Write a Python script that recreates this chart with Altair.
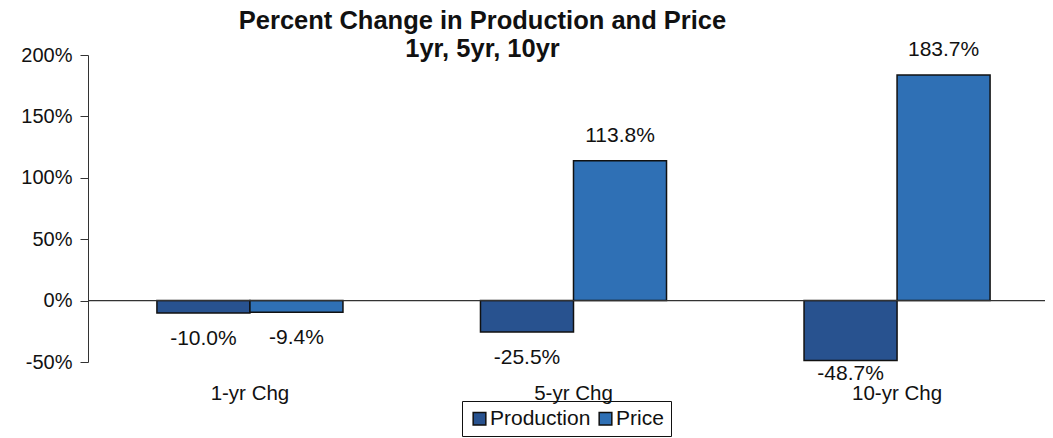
import altair as alt
import pandas as pd

categories = ["1-yr Chg", "5-yr Chg", "10-yr Chg"]
series = ["Production", "Price"]
production = [-10.0, -25.5, -48.7]
price = [-9.4, 113.8, 183.7]
y_ticks = [-50, 0, 50, 100, 150, 200]

rows = []
for c, p, q in zip(categories, production, price):
    rows.append({"cat": c, "series": "Production", "value": p})
    rows.append({"cat": c, "series": "Price", "value": q})
df = pd.DataFrame(rows)
df["label"] = df["value"].map(lambda v: f"{v:.1f}%")

FONT = "Liberation Sans"

x_enc = alt.X("cat:N", sort=categories, title=None,
              scale=alt.Scale(paddingInner=0.425, paddingOuter=0.213, range=[0, 971]),
              axis=alt.Axis(labelAngle=0, domain=False, ticks=False, labelPadding=21,
                            labelFontSize=20.5, labelFont=FONT, labelColor="#111"))
y_enc = alt.Y("value:Q", title=None,
              scale=alt.Scale(domain=[-50, 200], nice=False),
              axis=alt.Axis(values=y_ticks, grid=False, labelExpr="datum.value + '%'",
                            labelFontSize=20, labelFont=FONT, labelColor="#111",
                            domainColor="#333", tickColor="#333", tickSize=8, labelPadding=8))
xo = alt.XOffset("series:N", sort=series)

color = alt.Color("series:N", sort=series, title=None,
                  scale=alt.Scale(domain=series, range=["#28528f", "#2f70b5"]),
                  legend=alt.Legend(orient="none", legendX=374, legendY=346, direction="horizontal",
                                    symbolType="square", symbolSize=160, symbolStrokeColor="#111",
                                    symbolStrokeWidth=1.5, labelFontSize=21, labelFont=FONT,
                                    labelColor="#111", strokeColor="#111", padding=7,
                                    columnPadding=4, labelOffset=0))

base = alt.Chart(df)
bars = base.mark_bar(stroke="#111", strokeWidth=1.5).encode(x=x_enc, xOffset=xo, y=y_enc, color=color)
pos = base.transform_filter("datum.value > 0").mark_text(
    dy=-25, fontSize=21, font=FONT, color="#111").encode(x=x_enc, xOffset=xo, y=y_enc, text="label:N")
neg = base.transform_filter("datum.value < 0 && datum.value > -40").mark_text(
    dy=26, fontSize=21, font=FONT, color="#111").encode(x=x_enc, xOffset=xo, y=y_enc, text="label:N")
neg_low = base.transform_filter("datum.value <= -40").mark_text(
    dy=14, fontSize=21, font=FONT, color="#111").encode(x=x_enc, xOffset=xo, y=y_enc, text="label:N")
zero = alt.Chart(pd.DataFrame({"z": [0]})).mark_rule(color="#333", strokeWidth=1.2).encode(y="z:Q")

chart = alt.layer(bars, zero, pos, neg, neg_low).properties(
    width=957, height=307,
    autosize=alt.AutoSizeParams(type="none"),
    padding={"left": 80, "top": 47, "right": 0, "bottom": 76},
    title=alt.Title(["Percent Change in Production and Price", "1yr, 5yr, 10yr"],
                    fontSize=25.5, font=FONT, fontWeight="bold", color="#111",
                    anchor="middle", dx=-84, dy=25, offset=2, lineHeight=28),
).configure_view(stroke=None)

chart.save("out.html", embed_options={"renderer": "svg", "actions": False})
